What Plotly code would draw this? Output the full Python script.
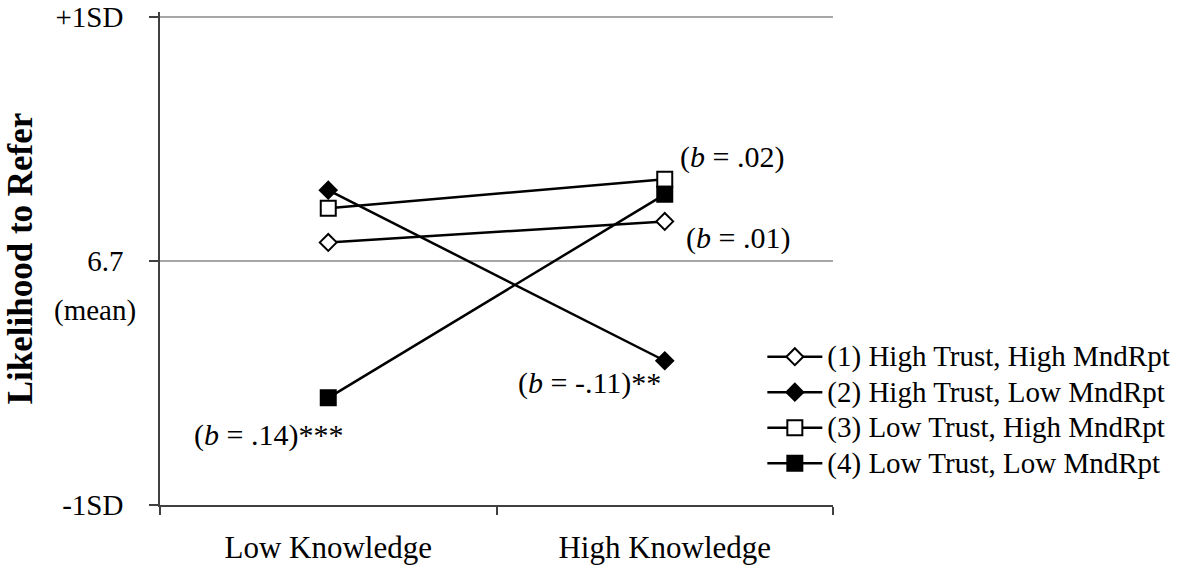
import plotly.graph_objects as go

categories = ["Low Knowledge", "High Knowledge"]
series_names = [
    "(1) High Trust, High MndRpt",
    "(2) High Trust, Low MndRpt",
    "(3) Low Trust, High MndRpt",
    "(4) Low Trust, Low MndRpt",
]
# values in SD units relative to the mean (6.7)
s1 = [0.076, 0.162]
s2 = [0.290, -0.409]
s3 = [0.216, 0.335]
s4 = [-0.561, 0.273]

ytick_vals = [-1, 0, 1]
ytick_text = ["-1SD", "6.7", "+1SD"]

slope_labels = ["(<i>b</i> = .02)", "(<i>b</i> = .01)", "(<i>b</i> = -.11)**", "(<i>b</i> = .14)***"]
slope_x = [1.199, 1.218, 0.776, -0.178]
slope_y = [0.425, 0.092, -0.499, -0.713]

FONT = "Liberation Serif, Times New Roman, serif"

styles = [
    dict(symbol="diamond", color="white", size=13),
    dict(symbol="diamond", color="black", size=13),
    dict(symbol="square", color="white", size=15),
    dict(symbol="square", color="black", size=15),
]

fig = go.Figure()
for name, vals, st in zip(series_names, [s1, s2, s3, s4], styles):
    fig.add_trace(go.Scatter(
        x=categories, y=vals,
        name='<span style="font-size:29px">' + name + '</span>',
        mode="lines+markers",
        line=dict(color="black", width=2.5),
        marker=dict(symbol=st["symbol"], size=st["size"], color=st["color"],
                    line=dict(color="black", width=2)),
    ))

for t, x, y in zip(slope_labels, slope_x, slope_y):
    fig.add_annotation(text=t, x=x, y=y, xref="x", yref="y", showarrow=False,
                       font=dict(size=30, color="black", family=FONT))

fig.add_annotation(text="(mean)", x=-0.032, xanchor="right", y=-0.203, xref="paper", yref="y",
                   showarrow=False, font=dict(size=29, color="black", family=FONT))

fig.update_layout(
    width=1178, height=565,
    margin=dict(l=160, r=345, t=12, b=60, autoexpand=False),
    paper_bgcolor="white", plot_bgcolor="white",
    font=dict(family=FONT, size=29, color="black"),
    showlegend=True,
    legend=dict(x=0.895, xanchor="left", y=0.347, yanchor="top",
                font=dict(size=25, family=FONT), bgcolor="rgba(0,0,0,0)",
                itemwidth=55, tracegroupgap=0),
)
fig.update_xaxes(
    type="category", tickson="boundaries", ticks="outside", ticklen=8,
    tickcolor="#404040", tickwidth=1.5,
    showline=True, linecolor="#404040", linewidth=1.5, showgrid=False,
    tickfont=dict(size=31, family=FONT), ticklabelstandoff=14, range=[-0.5, 1.5],
)
fig.update_yaxes(
    range=[-1, 1.02], tickvals=ytick_vals, ticktext=ytick_text,
    ticks="outside", ticklen=9, tickcolor="#404040", tickwidth=1.5,
    showline=True, linecolor="#404040", linewidth=1.5,
    showgrid=True, gridcolor="#a6a6a6", gridwidth=1.5, zeroline=False,
    tickfont=dict(size=29, family=FONT), ticklabelstandoff=20,
    title=dict(text="<b>Likelihood to Refer</b>", font=dict(size=35, family=FONT), standoff=12),
)

fig.write_html("out.html", config={"displayModeBar": False},
               post_script="document.body.style.margin='0';")
